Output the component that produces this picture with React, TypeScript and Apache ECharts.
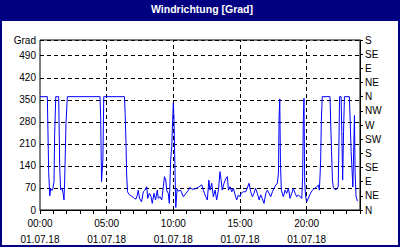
import React, { useEffect, useRef } from "react";
import * as echarts from "echarts";

// time of day in minutes since 00:00 (01.07.18)
const minutes = [
  0, 33, 39, 44, 48, 54, 58, 63, 66, 71, 84, 89, 93, 99, 104, 108, 111, 117, 123,
  270, 273, 277, 283, 287, 380, 383, 387, 390, 394, 400, 410, 420, 425, 432, 437,
  442, 448, 457, 465, 472, 480, 485, 492, 500, 505, 513, 520, 528, 532, 540, 548,
  555, 560, 566, 570, 577, 582, 588, 593, 597, 600, 603, 606, 611, 617, 622, 633,
  645, 657, 668, 675, 683, 698, 712, 728, 735, 746, 753, 760, 765, 773, 780, 788,
  795, 803, 810, 815, 820, 828, 837, 843, 848, 855, 863, 870, 878, 885, 893, 900,
  905, 915, 926, 935, 941, 948, 956, 963, 970, 978, 986, 993, 1000, 1008, 1016,
  1023, 1031, 1038, 1046, 1053, 1061, 1068, 1073, 1076, 1079, 1082, 1086, 1095,
  1103, 1110, 1118, 1125, 1133, 1140, 1148, 1155, 1163, 1170, 1178, 1182, 1185,
  1188, 1191, 1195, 1200, 1208, 1215, 1223, 1230, 1238, 1245, 1253, 1257, 1260,
  1263, 1266, 1270, 1305, 1308, 1312, 1316, 1320, 1326, 1332, 1337, 1342, 1345,
  1348, 1355, 1358, 1362, 1366, 1370, 1392, 1396, 1400, 1404, 1408, 1412, 1415,
  1418, 1422, 1428,
];

// wind direction in degrees
const direction = [
  360, 360, 122, 45, 68, 62, 68, 90, 240, 360, 360, 128, 64, 69, 53, 32, 95, 276, 360,
  360, 295, 90, 160, 360, 360, 310, 213, 111, 58, 50, 45, 40, 36, 35, 45,
  63, 37, 26, 58, 63, 74, 37, 53, 42, 21, 53, 32, 63, 37, 42, 32,
  74, 106, 95, 63, 53, 21, 159, 201, 286, 340, 290, 180, 8, 67, 60, 63,
  42, 53, 63, 72, 66, 67, 72, 80, 63, 42, 32, 95, 63, 85, 42, 63,
  32, 63, 122, 95, 63, 85, 101, 106, 63, 74, 58, 69, 48, 32, 48, 42,
  53, 58, 58, 74, 85, 58, 42, 53, 69, 53, 32, 48, 37, 21, 53,
  63, 53, 42, 58, 69, 79, 85, 117, 297, 353, 150, 63, 42,
  63, 53, 69, 37, 53, 69, 53, 42, 48, 42, 37, 106, 290,
  355, 90, 45, 26, 38, 50, 60, 66, 69, 74, 79, 63, 106,
  159, 281, 360, 360, 280, 185, 95, 72, 66, 64, 68, 75, 200,
  360, 360, 250, 95, 250, 360, 360, 280, 185, 130, 73, 200, 300,
  120, 45, 28,
];

const leftTicks = [0, 70, 140, 210, 280, 350, 420, 490];
const leftUnit = "Grad";
const compass = ["N", "NE", "E", "SE", "S", "SW", "W", "NW", "N", "NE", "E", "SE", "S"];
const gridHours = [300, 600, 900, 1200];
const dateLabel = "01.07.18";
const titleText = "Windrichtung [Grad]";

const FONT = "Liberation Sans";

export default function App() {
  const ref = useRef<HTMLDivElement>(null);

  useEffect(() => {
    document.body.style.margin = "0";
    const chart = echarts.init(ref.current!, null, { renderer: "svg" });
    const data = minutes.map((m, i) => [m, direction[i]]);
    const pad = (n: number) => (n < 10 ? "0" + n : "" + n);

    chart.setOption({
      animation: false,
      backgroundColor: "#ffffff",
      graphic: [
        {
          type: "rect",
          z: 0,
          shape: { x: 0, y: 0, width: 400, height: 21 },
          style: { fill: "#000080" },
        },
        {
          type: "text",
          z: 10,
          x: 202,
          y: 9,
          style: {
            text: titleText,
            fill: "#ffffff",
            font: `bold 10.5px "${FONT}"`,
            align: "center",
            verticalAlign: "middle",
          },
        },
        {
          type: "rect",
          z: 10,
          shape: { x: 1, y: 1, width: 398, height: 245 },
          style: { fill: "none", stroke: "#000080", lineWidth: 2 },
        },
      ],
      grid: {
        left: 40,
        right: 40,
        top: 40,
        bottom: 40,
        show: true,
        borderColor: "#000000",
        borderWidth: 1,
        backgroundColor: "#ffffff",
      },
      xAxis: {
        type: "value",
        min: 0,
        max: 1440,
        interval: 60,
        axisLine: { show: true, lineStyle: { color: "#000000", width: 1 } },
        axisTick: { show: true, length: 4, lineStyle: { color: "#000000" } },
        splitLine: { show: false },
        axisLabel: {
          margin: 5,
          color: "#000000",
          fontFamily: FONT,
          fontSize: 10,
          lineHeight: 16,
          formatter: (v: number) =>
            v % 300 === 0 && v < 1440 ? `${pad(v / 60)}:00\n${dateLabel}` : "",
        },
      },
      yAxis: [
        {
          type: "value",
          min: 0,
          max: 540,
          interval: 70,
          axisLine: { show: false },
          axisTick: { show: false },
          splitLine: {
            show: true,
            lineStyle: { color: "#000000", type: [4, 3], width: 1 },
          },
          axisLabel: {
            margin: 4,
            color: "#000000",
            fontFamily: FONT,
            fontSize: 10,
            formatter: (v: number) =>
              leftTicks.indexOf(v) >= 0 ? String(v) : v === 540 ? leftUnit : "",
          },
        },
        {
          type: "value",
          position: "right",
          min: 0,
          max: 540,
          interval: 45,
          axisLine: { show: true, lineStyle: { color: "#000000", width: 1 } },
          axisTick: { show: true, length: 3, lineStyle: { color: "#000000" } },
          splitLine: { show: false },
          axisLabel: {
            margin: 5,
            color: "#000000",
            fontFamily: FONT,
            fontSize: 10,
            formatter: (v: number) => compass[Math.round(v / 45)] ?? "",
          },
        },
      ],
      series: [
        {
          type: "line",
          data,
          yAxisIndex: 0,
          showSymbol: false,
          symbol: "none",
          lineStyle: { color: "#0000ff", width: 1 },
          z: 5,
          markLine: {
            silent: true,
            symbol: "none",
            label: { show: false },
            lineStyle: { color: "#000000", type: [4, 3], width: 1 },
            data: gridHours.map((h) => ({ xAxis: h })),
            z: 1,
          },
        },
      ],
    });

    return () => chart.dispose();
  }, []);

  return <div ref={ref} style={{ width: 400, height: 250 }} />;
}
